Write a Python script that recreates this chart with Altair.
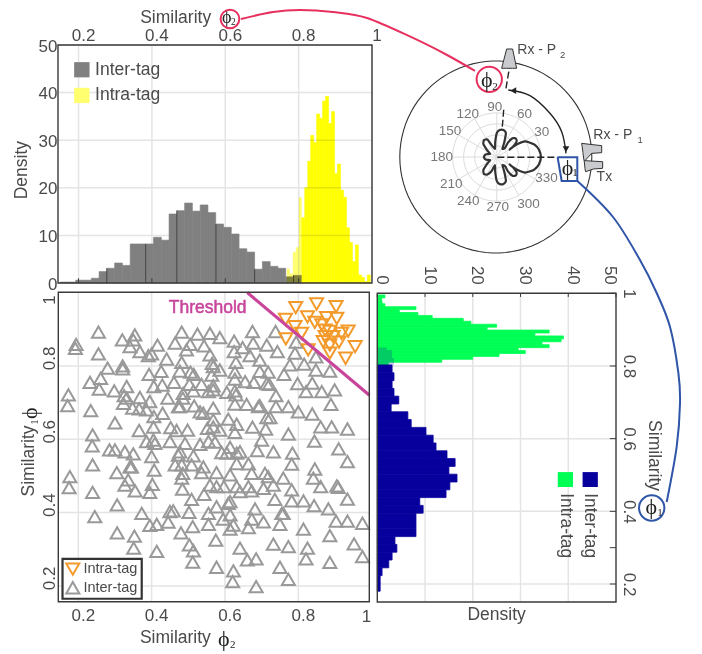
import math
import altair as alt
import pandas as pd

# ---------- scatter data ----------
inter_phi2 = [.255,.194,.192,.255,.320,.354,.350,.341,.368,.416,.400,.391,.482,.464,.505,.525,.559,.586,.543,.495,.559,.441,.482,.625,.648,.677,.675,.738,.714,.743,.625,.668,.695,.791,.794,.630,.777,.816,.848,.848,.886,.280,.321,.321,.393,.426,.477,.506,.515,.565,.568,.586,.564,.627,.627,.695,.718,.761,.232,.261,.257,.332,.298,.406,.429,.461,.503,.536,.568,.568,.555,.655,.679,.714,.721,.798,.838,.821,.864,.899,.739,.627,.630,.605,.486,.514,.485,.444,.368,.325,.332,.395,.323,.173,.171,.234,.348,.366,.386,.406,.430,.473,.477,.516,.532,.541,.568,.627,.659,.695,.691,.739,.773,.800,.838,.889,.714,.723,.609,.632,.568,.300,.366,.405,.452,.468,.498,.552,.568,.586,.627,.675,.711,.773,.861,.891,.934,.239,.238,.386,.405,.409,.450,.491,.532,.555,.573,.700,.844,.285,.300,.327,.350,.477,.473,.514,.591,.605,.614,.632,.641,.688,.732,.784,.910,.934,.239,.400,.407,.305,.341,.345,.464,.482,.509,.541,.536,.632,.664,.782,.845,.485,.482,.577,.614,.673,.709,.718,.759,.177,.175,.336,.327,.402,.355,.395,.484,.543,.559,.577,.597,.632,.664,.673,.641,.705,.732,.782,.841,.861,.905,.909,.934,.239,.306,.373,.450,.459,.509,.502,.555,.577,.609,.614,.736,.782,.814,.843,.882,.245,.395,.414,.445,.555,.595,.614,.623,.614,.682,.673,.664,.705,.759,.755,.750,.814,.903,.934,.975,.306,.353,.351,.414,.480,.512,.575,.503,.514,.512,.641,.732,.773,.825,.886,.952,.975,.821,.661,.685,.577,.623,.621,.750,.773,.685,.886]
inter_phi1 = [.892,.859,.848,.833,.871,.885,.871,.853,.839,.857,.833,.828,.892,.862,.859,.887,.889,.877,.855,.844,.830,.819,.810,.868,.850,.862,.894,.894,.857,.839,.839,.828,.816,.835,.865,.810,.803,.805,.789,.825,.786,.794,.800,.792,.777,.785,.786,.783,.777,.807,.798,.789,.775,.783,.764,.785,.783,.777,.755,.766,.737,.744,.732,.744,.748,.755,.750,.750,.746,.735,.730,.757,.755,.752,.750,.752,.753,.730,.730,.735,.719,.732,.721,.728,.725,.732,.712,.712,.714,.719,.712,.703,.698,.721,.692,.678,.685,.683,.680,.662,.671,.689,.689,.691,.675,.671,.685,.696,.695,.692,.689,.689,.689,.675,.669,.695,.659,.659,.655,.641,.653,.645,.624,.633,.632,.624,.625,.630,.634,.625,.619,.633,.628,.614,.634,.634,.628,.612,.582,.594,.598,.589,.594,.589,.586,.594,.592,.598,.595,.571,.571,.566,.560,.566,.557,.555,.564,.562,.578,.562,.566,.569,.566,.562,.574,.539,.530,.553,.516,.509,.525,.525,.530,.530,.530,.525,.509,.534,.533,.532,.519,.507,.494,.509,.503,.507,.507,.498,.494,.498,.468,.489,.475,.477,.459,.455,.464,.450,.475,.471,.471,.471,.471,.459,.457,.466,.475,.462,.494,.471,.473,.469,.437,.455,.421,.398,.403,.405,.436,.401,.398,.416,.425,.430,.436,.432,.432,.419,.410,.389,.365,.368,.374,.368,.382,.394,.366,.355,.410,.382,.359,.375,.398,.398,.368,.355,.377,.377,.371,.345,.336,.303,.294,.345,.362,.325,.312,.296,.265,.303,.314,.307,.303,.337,.315,.280,.274,.271,.274,.251,.241,.212,.251,.218,.198,.264]
intra_phi2 = [.793,.850,.903,.765,.825,.905,.877,.791,.845,.864,.809,.766,.936,.873,.886,.918,.955,.911,.868,.929,.827,.886,.886,.873,.895]
intra_phi1 = [.959,.969,.962,.927,.934,.930,.932,.907,.919,.912,.889,.874,.895,.898,.894,.889,.853,.865,.866,.821,.844,.835,.857,.880,.880]
threshold_phi2 = [.661, .994]
threshold_phi1 = [1.0, .72]

# ---------- histogram data ----------
inter_top_start, inter_top_step = .150, .0212
inter_top = [.2,.2,.6,.6,1.0,2.4,3.1,4.2,3.7,8.2,8.2,8.2,9.6,9.0,14.5,15.2,16.8,15.1,16.4,14.8,12.4,11.7,10.3,7.2,6.5,2.9,4.5,3.5,3.1,1.3,1.6]
seam_x = [.277,.383,.468,.5745,.680,.786]
seam_h = [3.1,8.2,15.2,12.4,2.9,1.6]
intra_top_start, intra_top_step = .768, .00812
intra_top_pale = [3,2,6.5,7.5,18]
intra_top = [13.7,20,25.6,31,29.5,35.5,34.6,38.2,39.2,33.5,36,23,25,19.5,18,11.6,8.5,4.5,8,1.7,1.2,.3,1.7]

inter_right_start, inter_right_step = .8028, .02147
inter_right = [3.1,3.5,3.1,3.5,4.5,2.9,6.4,7.1,10.2,11.7,12.3,14.6,16.3,15.0,16.7,15.2,14.4,8.9,9.6,8.1,8.1,8.1,3.7,4.1,3.1,2.4,1.0,.6,.6]
overlap_lo = [.8028,.8215,.844]
overlap_hi = [.8215,.844,.851]
overlap_v = [3.5,3.1,2.0]
intra_right_start, intra_right_step = .9954, .00805
intra_right = [1.6,.9,1,1.6,8.1,4.6,8.5,11.5,18,19.6,25,23,36,33,39,38.5,34.5,36,29.5,31,25.5,20,13.5,2.3]

# ---------- polar pattern ----------
lobe_theta = [0,10,18,24,29,32,32,30,33,38,44,50,52,48,55,63,69,76,84,90,96,103,115,118,127,136,145,155,165,175,185,195,205,215,224,233,242,250,257,264,270,276,284,291,297,305,312,308,310,316,322,327,330,328,328,331,336,342,350]
lobe_radius = [40,38.7,36,32.4,29.1,22.8,16.5,13.5,18,22.8,24,22.2,16.5,11.4,9,15,23.1,25.2,24.6,21.6,13.5,7.5,13.5,18,19.2,16.8,10.5,6.6,9.9,11.4,11.4,9.9,6.6,10.5,16.8,19.2,18,13.5,7.5,13.5,21.6,24.6,25.2,23.1,15,9,11.4,16.5,22.2,24,22.8,18,13.5,16.5,22.8,29.1,32.4,36,38.7]
polar_levels = [10,20,30,40]
polar_angles = [0,30,60,90,120,150,180,210,240,270,300,330]
polar_tick_text = ["30","60","90","120","150","180","210","240","270","300","330"]
polar_tick_x = [.479,.299,-.01,-.293,-.476,-.563,-.465,-.287,.02,.341,.528]
polar_tick_y = [.257,.444,.524,.444,.274,-.003,-.285,-.458,-.524,-.490,-.222]

FONT = "Liberation Sans"
SERIF = "Liberation Serif"
INK = "#4a4a4a"
GRID = "#e4e4e4"
FRAME = "#3a3a3a"
RED = "#e8305e"
BLUE = "#2f55a8"

# ---------- panels: domain and pixel range on the shared canvas ----------
W, H = 686, 644
TOP = dict(x=([.144, 1], [50, 364]), y=([0, 50], [275, 37]))
SCT = dict(x=([.1455, .9936], [50.3, 361.3]), y=([.157, 1.0009], [593.7, 284.3]))
RGT = dict(x=([0, 50], [369.3, 608]), y=([.1505, 1], [594, 285.3]))
POL = dict(x=([-1, 1], [391.8, 583.8]), y=([-1, 1], [245, 53]))


def sc(panel, ch):
    d, r = panel[ch]
    return alt.Scale(domain=d, range=r, nice=False, zero=False)


def ex(panel, f, axis=None):
    return alt.X(f, type="quantitative", scale=sc(panel, "x"), axis=axis, title=None)


def ey(panel, f, axis=None):
    return alt.Y(f, type="quantitative", scale=sc(panel, "y"), axis=axis, title=None)


def rects(panel, x0, x1, y0, y1, **mark):
    df = pd.DataFrame(dict(x0=x0, x1=x1, y0=y0, y1=y1))
    return alt.Chart(df).mark_rect(**mark).encode(
        x=ex(panel, "x0"), x2=alt.X2("x1"), y=ey(panel, "y0"), y2=alt.Y2("y1"))


def frame(panel, **mark):
    return rects(panel, [panel["x"][0][0]], [panel["x"][0][1]], [panel["y"][0][0]], [panel["y"][0][1]],
                 fillOpacity=0, stroke=FRAME, strokeWidth=1.4, **mark)


def vrules(panel, xs, y0=None, y1=None, axis=None, **mark):
    y0 = panel["y"][0][0] if y0 is None else y0
    y1 = panel["y"][0][1] if y1 is None else y1
    y0s = y0 if isinstance(y0, list) else [y0] * len(xs)
    y1s = y1 if isinstance(y1, list) else [y1] * len(xs)
    df = pd.DataFrame(dict(x=xs, y0=y0s, y1=y1s))
    return alt.Chart(df).mark_rule(**mark).encode(
        x=ex(panel, "x", axis), y=ey(panel, "y0"), y2=alt.Y2("y1"))


def hrules(panel, ys, x0=None, x1=None, axis=None, **mark):
    x0 = panel["x"][0][0] if x0 is None else x0
    x1 = panel["x"][0][1] if x1 is None else x1
    df = pd.DataFrame(dict(y=ys, x0=[x0] * len(ys), x1=[x1] * len(ys)))
    return alt.Chart(df).mark_rule(**mark).encode(
        y=ey(panel, "y", axis), x=ex(panel, "x0"), x2=alt.X2("x1"))


def path(panel, xs, ys, **mark):
    df = pd.DataFrame(dict(x=xs, y=ys, i=range(len(xs))))
    return alt.Chart(df).mark_line(**mark).encode(
        x=ex(panel, "x"), y=ey(panel, "y"), order=alt.Order("i:Q"))


def points(panel, xs, ys, **mark):
    df = pd.DataFrame(dict(x=xs, y=ys))
    return alt.Chart(df).mark_point(**mark).encode(x=ex(panel, "x"), y=ey(panel, "y"))


def text(panel, labels, xs, ys, size=17.5, color=INK, font=FONT, **mark):
    df = pd.DataFrame(dict(t=labels, x=xs, y=ys))
    return alt.Chart(df).mark_text(fontSize=size, color=color, font=font, baseline="middle", **mark).encode(
        x=ex(panel, "x"), y=ey(panel, "y"), text="t:N")


def axis(orient, offset, values, pad, angle=0, **kw):
    return alt.Axis(orient=orient, offset=offset, values=values, grid=False, domain=False, ticks=False,
                    labelFont=FONT, labelFontSize=17, labelColor=INK, labelPadding=pad, labelAngle=angle,
                    labelOverlap=False, labelFlush=False, format="~r", title=None, **kw)


def bins(start, step, n):
    return [start + k * step for k in range(n + 1)]


sim_ticks = [.2, .4, .6, .8]
dens_ticks = [10, 20, 30, 40]
TRI = dict(size=170, filled=False, strokeWidth=2, opacity=1)
layers = []

# ---- top histogram -------------------------------------------------------
layers += [
    vrules(TOP, sim_ticks + [1], axis=axis("top", -37, sim_ticks + [1], 1, labelOffset=4.5), stroke=GRID, strokeWidth=1.5),
    hrules(TOP, [0] + dens_ticks + [50], axis=axis("left", -50, [0] + dens_ticks + [50], 1, labelOffset=1), stroke=GRID, strokeWidth=1.5),
]
e = bins(inter_top_start, inter_top_step, len(inter_top))
layers.append(rects(TOP, e[:-1], e[1:], [0] * len(inter_top), inter_top, fill="#808080", stroke="#808080", strokeWidth=0.6))
layers.append(vrules(TOP, seam_x, y0=0, y1=seam_h, stroke="#333333", strokeWidth=0.8))
e = bins(intra_top_start, intra_top_step, len(intra_top_pale) + len(intra_top))
np_ = len(intra_top_pale)
layers.append(rects(TOP, e[:np_], e[1:np_ + 1], [0] * np_, intra_top_pale, fill="#ffff70", blend="multiply"))
layers.append(rects(TOP, e[np_:-1], e[np_ + 1:], [0] * len(intra_top), intra_top, fill="#ffff00", stroke="#ffff00", strokeWidth=0.6, blend="multiply"))
layers.append(frame(TOP))
layers.append(vrules(TOP, sim_ticks, y0=0, y1=1, stroke=FRAME, strokeWidth=1))
layers.append(rects(TOP, [.188], [.23], [43.2], [46.4], fill="#808080"))
layers.append(rects(TOP, [.188], [.23], [37.8], [41.0], fill="#ffff70"))
layers.append(text(TOP, ["Inter-tag", "Intra-tag"], [.245, .245], [44.8, 39.4], align="left"))
layers.append(text(TOP, ["Similarity"], [.368], [55.7], align="left"))
layers.append(text(TOP, ["Density"], [.0455], [23.7], angle=270))
layers.append(text(TOP, ["\u03d5"], [.604], [55.7], size=18, color="#222222", font=SERIF))
layers.append(text(TOP, ["2"], [.622], [54.9], size=9.5, color="#222222", font=SERIF))

# ---- scatter ---------------------------------------------------------------
layers += [
    vrules(SCT, sim_ticks, axis=axis("bottom", -(H - 593.7), sim_ticks, 6, labelOffset=4.5), stroke=GRID, strokeWidth=1.5),
    hrules(SCT, sim_ticks, axis=axis("left", -50.3, sim_ticks, 0, angle=270, labelOffset=-8), stroke=GRID, strokeWidth=1.5),
]
layers.append(points(SCT, inter_phi2, inter_phi1, shape="triangle-up", stroke="#999999", **TRI))
layers.append(points(SCT, intra_phi2, intra_phi1, shape="triangle-down", stroke="#f39a2b", **TRI))
layers.append(path(SCT, threshold_phi2, threshold_phi1, stroke="#c8459b", strokeWidth=3.2))
layers.append(text(SCT, ["Threshold"], [.659], [.959], color="#c8459b", align="right", stroke="#c8459b", strokeWidth=0.5))
layers.append(frame(SCT))
layers.append(rects(SCT, [.157], [.373], [.165], [.274], fill="white", stroke="#333333", strokeWidth=2.2))
layers.append(points(SCT, [.185], [.246], shape="triangle-down", stroke="#f39a2b", **TRI))
layers.append(points(SCT, [.185], [.195], shape="triangle-up", stroke="#999999", **TRI))
layers.append(text(SCT, ["Intra-tag", "Inter-tag"], [.214, .214], [.246, .195], size=14.5, align="left"))
layers.append(text(SCT, ["1"], [.986], [.116], size=17))
layers.append(text(SCT, ["1"], [.123], [.98], size=17, angle=270))
layers.append(text(SCT, ["Similarity"], [.368], [.057], align="left"))
layers.append(text(SCT, ["\u03d5"], [.597], [.055], size=22, color="#222222", font=SERIF))
layers.append(text(SCT, ["2"], [.621], [.039], size=11, color="#222222", font=SERIF))
layers.append(text(SCT, ["Similarity"], [.065], [.444], align="left", angle=270))
layers.append(text(SCT, ["\u03d5"], [.067], [.671], size=22, color="#222222", font=SERIF, angle=270))
layers.append(text(SCT, ["1"], [.083], [.647], size=11, color="#222222", font=SERIF, angle=270))

# ---- right histogram -------------------------------------------------------
layers += [
    vrules(RGT, dens_ticks, stroke=GRID, strokeWidth=1.5),
    hrules(RGT, sim_ticks, stroke=GRID, strokeWidth=1.5),
]
e = bins(intra_right_start, -intra_right_step, len(intra_right))
layers.append(rects(RGT, [0] * len(intra_right), intra_right, e[1:], e[:-1], fill="#00ff55", stroke="#00ff55", strokeWidth=0.8))
layers.append(rects(RGT, [0] * 3, overlap_v, overlap_lo, overlap_hi, fill="#0a00a0", opacity=0.2))
e = bins(inter_right_start, -inter_right_step, len(inter_right))
layers.append(rects(RGT, [0] * len(inter_right), inter_right, e[1:], e[:-1], fill="#08009c", stroke="#08009c", strokeWidth=0.8))
layers.append(frame(RGT))
top_offset = {"condition": {"test": "datum.value == 50", "value": -7}, "value": 4}
layers.append(alt.Chart(pd.DataFrame(dict(v=[0] + dens_ticks + [50], y0=[1] * 6, y1=[.99] * 6))).mark_rule(stroke=FRAME, strokeWidth=1).encode(
    x=ex(RGT, "v", axis("top", -285.3, [0] + dens_ticks + [50], 9, angle=90, labelOffset=top_offset)), y=ey(RGT, "y0"), y2=alt.Y2("y1")))
layers.append(alt.Chart(pd.DataFrame(dict(v=[1, .8, .6, .4, .3, .2], x0=[50] * 6, x1=[48.7] * 6))).mark_rule(stroke=FRAME, strokeWidth=1).encode(
    y=ey(RGT, "v", axis("right", -(W - 608), [1, .8, .6, .4, .2], 3, angle=90)), x=ex(RGT, "x0"), x2=alt.X2("x1")))
layers.append(rects(RGT, [43], [46.2], [.467], [.508], fill="#08009c"))
layers.append(rects(RGT, [37.8], [41], [.467], [.508], fill="#00ff55"))
layers.append(text(RGT, ["Inter-tag", "Intra-tag"], [44.6, 39.5], [.45, .45], align="left", angle=90))
layers.append(text(RGT, ["Density"], [25], [.115]))
layers.append(text(RGT, ["Similarity"], [58], [.651], align="left", angle=90))

# ---- polar inset and annotation curves -------------------------------------
UNIT = 0.0115  # polar panel units per pattern unit
CX = 0.01
layers.append(path(POL, [math.cos(math.radians(a)) for a in range(0, 361, 4)],
                   [math.sin(math.radians(a)) for a in range(0, 361, 4)], stroke="#333333", strokeWidth=1.1))
for lv in polar_levels:
    r = lv * UNIT
    layers.append(path(POL, [CX + r * math.cos(math.radians(a)) for a in range(0, 361, 6)],
                       [r * math.sin(math.radians(a)) for a in range(0, 361, 6)], stroke="#dcdcdc", strokeWidth=1))
for a in polar_angles:
    c, s = math.cos(math.radians(a)), math.sin(math.radians(a))
    R = polar_levels[-1] * UNIT
    layers.append(path(POL, [CX, CX + R * c], [0, R * s], stroke="#dcdcdc", strokeWidth=1))
layers.append(text(POL, polar_tick_text, polar_tick_x, polar_tick_y, size=13.5, color="#777777"))
layers.append(path(POL,
                   [CX + lobe_radius[i] * UNIT * math.cos(math.radians(lobe_theta[i])) for i in range(len(lobe_theta))],
                   [lobe_radius[i] * UNIT * math.sin(math.radians(lobe_theta[i])) for i in range(len(lobe_theta))],
                   stroke="#333333", strokeWidth=2.2, interpolate="cardinal-closed", tension=0.4))
layers.append(path(POL, [.016, .644], [-.003, -.003], stroke="#222222", strokeWidth=1.4, strokeDash=[7, 3]))
layers.append(path(POL, [.068, .085], [.316, .524], stroke="#222222", strokeWidth=1.4, strokeDash=[7, 3]))
layers.append(path(POL, [.106, .141], [.715, .924], stroke="#222222", strokeWidth=1.4, strokeDash=[7, 3]))
layers.append(path(POL, [.130, .356, .564, .686, .731], [.698, .639, .455, .264, .038], stroke="#222222", strokeWidth=1.4, interpolate="cardinal"))
layers.append(points(POL, [.731], [.083], shape="triangle-down", size=45, filled=True, fill="#222222", opacity=1))
layers.append(points(POL, [.182], [.691], shape="triangle-left", size=45, filled=True, fill="#222222", opacity=1))

horn_p2 = pd.DataFrame(dict(x=[.061, .113, .175, .217], y0=[.924] * 4, y1=[.924, 1.125, 1.125, .924]))
layers.append(alt.Chart(horn_p2).mark_area(fill="#c9cbce", stroke="#333333", strokeWidth=1).encode(
    x=ex(POL, "x"), y=ey(POL, "y0"), y2=alt.Y2("y1")))
for ys, x0, x1 in [([.142, .118, .045, .038, -.038], [.894, .898, .908, .908, .919], [.894, 1.103, 1.103, .999, .929]),
                   ([-.038, -.049, -.118, -.125, -.153], [.919, .922, .929, .929, .936], [.925, 1.113, 1.113, 1.016, .936])]:
    df = pd.DataFrame(dict(y=ys, x0=x0, x1=x1))
    layers.append(alt.Chart(df).mark_area(orient="horizontal", fill="#c9cbce", stroke="#333333", strokeWidth=1).encode(
        y=ey(POL, "y"), x=ex(POL, "x0"), x2=alt.X2("x1")))

layers.append(path(POL, [.644, .849, .849, .686, .644], [-.003, -.003, -.25, -.25, -.003], stroke=BLUE, strokeWidth=2))
layers.append(path(POL, [.849, 1.221, 1.502, 1.676, 1.815, 1.902, 1.919, 1.884, 1.78],
                   [-.25, -.625, -1.073, -1.417, -1.771, -2.25, -2.5625, -3.02, -3.594], stroke=BLUE, strokeWidth=2, interpolate="cardinal"))
layers.append(path(POL, [-2.654, -2.321, -2.04, -1.696, -1.342, -.8625, -.508, -.217],
                   [1.4375, 1.51, 1.531, 1.51, 1.448, 1.24, 1.0625, .896], stroke=RED, strokeWidth=2, interpolate="cardinal"))
layers.append(points(POL, [-2.769], [1.4375], shape="circle", size=350, filled=False, stroke=RED, strokeWidth=2, opacity=1))
layers.append(points(POL, [-.068], [.809], shape="circle", size=640, filled=False, stroke=RED, strokeWidth=2, opacity=1))
layers.append(points(POL, [1.624], [-3.656], shape="circle", size=640, filled=False, stroke=BLUE, strokeWidth=2, opacity=1))
layers.append(text(POL, ["\u03d5", "\u03d5", "\u03d5"], [-.095, .748, 1.62], [.802, -.118, -3.65], size=22, color="#222222", font=SERIF))
layers.append(text(POL, ["2", "1", "1"], [-.009, .825, 1.71], [.726, -.17, -3.71], size=11, color="#222222", font=SERIF))
layers.append(text(POL, ["Rx - P", "Rx - P", "Tx"], [.224, 1.016, 1.05], [1.115, .229, -.205], size=14, align="left"))
layers.append(text(POL, ["2", "1"], [.668, 1.477], [1.0625, .177], size=9.5, align="left"))

chart = alt.layer(*layers).resolve_scale(x="independent", y="independent").properties(
    width=W, height=H, padding=0, background="white",
    autosize=alt.AutoSizeParams(type="none"),
).configure_view(stroke=None)

chart.save("out.html", embed_options={"renderer": "svg", "actions": False})
